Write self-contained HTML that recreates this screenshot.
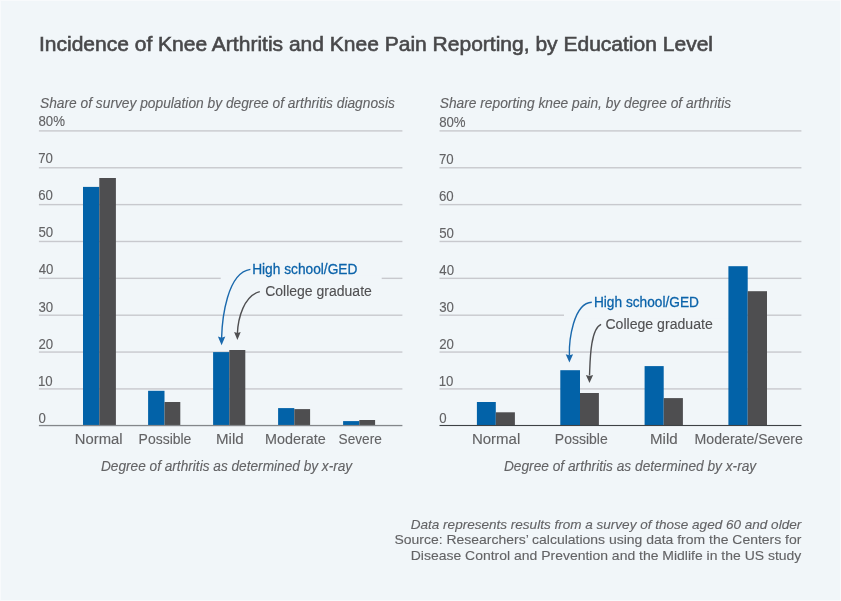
<!DOCTYPE html>
<html><head><meta charset="utf-8"><title>Incidence of Knee Arthritis and Knee Pain Reporting, by Education Level</title>
<style>
html,body{margin:0;padding:0;background:#f1f6f9;overflow:hidden;}
svg{display:block;}
text{font-family:"Liberation Sans",Arial,sans-serif;}
</style></head><body>
<svg width="841" height="601" viewBox="0 0 841 601">
<rect x="0" y="0" width="841" height="601" fill="#f1f6f9"/>
<rect x="0" y="0" width="841" height="1" fill="#f8fafc"/>
<rect x="0" y="0" width="1" height="601" fill="#f8fafc"/>
<rect x="840" y="0" width="1" height="601" fill="#f8fafc"/>
<rect x="0" y="600" width="841" height="1" fill="#f8fafc"/>

<rect x="38.9" y="130.20" width="363.5" height="1.4" fill="#c8c9ce"/>
<rect x="38.9" y="167.06" width="363.5" height="1.4" fill="#c8c9ce"/>
<rect x="38.9" y="203.92" width="363.5" height="1.4" fill="#c8c9ce"/>
<rect x="38.9" y="240.78" width="363.5" height="1.4" fill="#c8c9ce"/>
<rect x="38.9" y="277.64" width="363.5" height="1.4" fill="#c8c9ce"/>
<rect x="38.9" y="314.50" width="363.5" height="1.4" fill="#c8c9ce"/>
<rect x="38.9" y="351.36" width="363.5" height="1.4" fill="#c8c9ce"/>
<rect x="38.9" y="388.22" width="363.5" height="1.4" fill="#c8c9ce"/>
<rect x="439.5" y="130.20" width="361.9" height="1.4" fill="#c8c9ce"/>
<rect x="439.5" y="167.06" width="361.9" height="1.4" fill="#c8c9ce"/>
<rect x="439.5" y="203.92" width="361.9" height="1.4" fill="#c8c9ce"/>
<rect x="439.5" y="240.78" width="361.9" height="1.4" fill="#c8c9ce"/>
<rect x="439.5" y="277.64" width="361.9" height="1.4" fill="#c8c9ce"/>
<rect x="439.5" y="314.50" width="361.9" height="1.4" fill="#c8c9ce"/>
<rect x="439.5" y="351.36" width="361.9" height="1.4" fill="#c8c9ce"/>
<rect x="439.5" y="388.22" width="361.9" height="1.4" fill="#c8c9ce"/>
<rect x="220.7" y="275.3" width="161" height="6" fill="#f1f6f9"/>
<rect x="564" y="312.2" width="170" height="6" fill="#f1f6f9"/>
<rect x="83" y="186.9" width="16.3" height="238.6" fill="#0262a8"/>
<rect x="99.3" y="178" width="16.6" height="247.5" fill="#4e4e50"/>
<rect x="148.1" y="390.8" width="16.4" height="34.7" fill="#0262a8"/>
<rect x="164.5" y="402" width="15.8" height="23.5" fill="#4e4e50"/>
<rect x="213.1" y="352.1" width="16.2" height="73.4" fill="#0262a8"/>
<rect x="229.3" y="350" width="16.0" height="75.5" fill="#4e4e50"/>
<rect x="278.1" y="408.1" width="16.2" height="17.4" fill="#0262a8"/>
<rect x="294.3" y="409.1" width="15.8" height="16.4" fill="#4e4e50"/>
<rect x="343.1" y="421.1" width="16.2" height="4.4" fill="#0262a8"/>
<rect x="359.3" y="420" width="15.8" height="5.5" fill="#4e4e50"/>
<rect x="476.9" y="402" width="18.9" height="23.5" fill="#0262a8"/>
<rect x="495.8" y="412.3" width="19.1" height="13.2" fill="#4e4e50"/>
<rect x="560.3" y="370.2" width="19.7" height="55.3" fill="#0262a8"/>
<rect x="580" y="393" width="18.9" height="32.5" fill="#4e4e50"/>
<rect x="644.6" y="366.1" width="19.1" height="59.4" fill="#0262a8"/>
<rect x="663.7" y="398.1" width="19.2" height="27.4" fill="#4e4e50"/>
<rect x="728.4" y="266.2" width="19.3" height="159.3" fill="#0262a8"/>
<rect x="747.7" y="291.2" width="19.3" height="134.3" fill="#4e4e50"/>
<rect x="38.9" y="424.90" width="363.5" height="1.3" fill="#84878b"/>
<rect x="439.5" y="424.95" width="361.9" height="1.1" fill="#3e4245"/>
<text x="38.95" y="50.7" font-size="21" fill="#48484a" stroke="#48484a" stroke-width="0.6" textLength="674.06" lengthAdjust="spacingAndGlyphs">Incidence of Knee Arthritis and Knee Pain Reporting, by Education Level</text>
<text x="40.06" y="107.6" font-size="14.2" fill="#636365" font-style="italic" stroke="#636365" stroke-width="0.12" textLength="354.84" lengthAdjust="spacingAndGlyphs">Share of survey population by degree of arthritis diagnosis</text>
<text x="439.76" y="107.8" font-size="14.2" fill="#636365" font-style="italic" stroke="#636365" stroke-width="0.12" textLength="291.37" lengthAdjust="spacingAndGlyphs">Share reporting knee pain, by degree of arthritis</text>
<text x="38.43" y="125.7" font-size="14" fill="#636365" stroke="#636365" stroke-width="0.12" textLength="26.48" lengthAdjust="spacingAndGlyphs">80%</text>
<text x="38.19" y="162.8" font-size="14" fill="#636365" stroke="#636365" stroke-width="0.12" textLength="14.72" lengthAdjust="spacingAndGlyphs">70</text>
<text x="38.19" y="200.0" font-size="14" fill="#636365" stroke="#636365" stroke-width="0.12" textLength="14.72" lengthAdjust="spacingAndGlyphs">60</text>
<text x="38.43" y="236.7" font-size="14" fill="#636365" stroke="#636365" stroke-width="0.12" textLength="14.72" lengthAdjust="spacingAndGlyphs">50</text>
<text x="38.66" y="273.7" font-size="14" fill="#636365" stroke="#636365" stroke-width="0.12" textLength="14.72" lengthAdjust="spacingAndGlyphs">40</text>
<text x="38.43" y="311.8" font-size="14" fill="#636365" stroke="#636365" stroke-width="0.12" textLength="14.72" lengthAdjust="spacingAndGlyphs">30</text>
<text x="38.43" y="348.9" font-size="14" fill="#636365" stroke="#636365" stroke-width="0.12" textLength="14.72" lengthAdjust="spacingAndGlyphs">20</text>
<text x="37.96" y="386.1" font-size="14" fill="#636365" stroke="#636365" stroke-width="0.12" textLength="14.72" lengthAdjust="spacingAndGlyphs">10</text>
<text x="38.43" y="422.9" font-size="14" fill="#636365" stroke="#636365" stroke-width="0.12" textLength="7.37" lengthAdjust="spacingAndGlyphs">0</text>
<text x="439.13" y="126.7" font-size="14" fill="#636365" stroke="#636365" stroke-width="0.12" textLength="26.48" lengthAdjust="spacingAndGlyphs">80%</text>
<text x="438.89" y="163.8" font-size="14" fill="#636365" stroke="#636365" stroke-width="0.12" textLength="14.72" lengthAdjust="spacingAndGlyphs">70</text>
<text x="438.89" y="201.0" font-size="14" fill="#636365" stroke="#636365" stroke-width="0.12" textLength="14.72" lengthAdjust="spacingAndGlyphs">60</text>
<text x="439.13" y="238.0" font-size="14" fill="#636365" stroke="#636365" stroke-width="0.12" textLength="14.72" lengthAdjust="spacingAndGlyphs">50</text>
<text x="439.36" y="275.3" font-size="14" fill="#636365" stroke="#636365" stroke-width="0.12" textLength="14.72" lengthAdjust="spacingAndGlyphs">40</text>
<text x="439.13" y="312.0" font-size="14" fill="#636365" stroke="#636365" stroke-width="0.12" textLength="14.72" lengthAdjust="spacingAndGlyphs">30</text>
<text x="439.13" y="348.7" font-size="14" fill="#636365" stroke="#636365" stroke-width="0.12" textLength="14.72" lengthAdjust="spacingAndGlyphs">20</text>
<text x="438.66" y="385.8" font-size="14" fill="#636365" stroke="#636365" stroke-width="0.12" textLength="14.72" lengthAdjust="spacingAndGlyphs">10</text>
<text x="439.13" y="422.8" font-size="14" fill="#636365" stroke="#636365" stroke-width="0.12" textLength="7.37" lengthAdjust="spacingAndGlyphs">0</text>
<text x="74.83" y="443.7" font-size="13.8" fill="#636365" stroke="#636365" stroke-width="0.12" textLength="47.71" lengthAdjust="spacingAndGlyphs">Normal</text>
<text x="138.59" y="443.7" font-size="13.8" fill="#636365" stroke="#636365" stroke-width="0.12" textLength="52.82" lengthAdjust="spacingAndGlyphs">Possible</text>
<text x="216.01" y="443.7" font-size="13.8" fill="#636365" stroke="#636365" stroke-width="0.12" textLength="27.67" lengthAdjust="spacingAndGlyphs">Mild</text>
<text x="265.06" y="443.7" font-size="13.8" fill="#636365" stroke="#636365" stroke-width="0.12" textLength="60.71" lengthAdjust="spacingAndGlyphs">Moderate</text>
<text x="338.61" y="443.7" font-size="13.8" fill="#636365" stroke="#636365" stroke-width="0.12" textLength="43.16" lengthAdjust="spacingAndGlyphs">Severe</text>
<text x="471.91" y="443.7" font-size="13.8" fill="#636365" stroke="#636365" stroke-width="0.12" textLength="48.34" lengthAdjust="spacingAndGlyphs">Normal</text>
<text x="554.89" y="443.7" font-size="13.8" fill="#636365" stroke="#636365" stroke-width="0.12" textLength="52.82" lengthAdjust="spacingAndGlyphs">Possible</text>
<text x="650.01" y="443.7" font-size="13.8" fill="#636365" stroke="#636365" stroke-width="0.12" textLength="27.67" lengthAdjust="spacingAndGlyphs">Mild</text>
<text x="694.58" y="443.7" font-size="13.8" fill="#636365" stroke="#636365" stroke-width="0.12" textLength="108.33" lengthAdjust="spacingAndGlyphs">Moderate/Severe</text>
<text x="100.95" y="470.7" font-size="13.8" fill="#636365" font-style="italic" stroke="#636365" stroke-width="0.12" textLength="251.28" lengthAdjust="spacingAndGlyphs">Degree of arthritis as determined by x-ray</text>
<text x="503.95" y="470.7" font-size="13.8" fill="#636365" font-style="italic" stroke="#636365" stroke-width="0.12" textLength="252.28" lengthAdjust="spacingAndGlyphs">Degree of arthritis as determined by x-ray</text>
<text x="252.13" y="273.6" font-size="14.2" fill="#0b63aa" stroke="#0b63aa" stroke-width="0.28" textLength="105.33" lengthAdjust="spacingAndGlyphs">High school/GED</text>
<text x="265.15" y="295.6" font-size="14.0" fill="#505052" stroke="#505052" stroke-width="0.12" textLength="106.69" lengthAdjust="spacingAndGlyphs">College graduate</text>
<text x="593.93" y="306.7" font-size="14.2" fill="#0b63aa" stroke="#0b63aa" stroke-width="0.28" textLength="105.02" lengthAdjust="spacingAndGlyphs">High school/GED</text>
<text x="605.45" y="328.6" font-size="14.0" fill="#505052" stroke="#505052" stroke-width="0.12" textLength="107.30" lengthAdjust="spacingAndGlyphs">College graduate</text>
<text x="410.75" y="528.7" font-size="13.6" fill="#636365" font-style="italic" stroke="#636365" stroke-width="0.12" textLength="390.47" lengthAdjust="spacingAndGlyphs">Data represents results from a survey of those aged 60 and older</text>
<text x="394.49" y="544.4" font-size="13.6" fill="#636365" stroke="#636365" stroke-width="0.12" textLength="406.89" lengthAdjust="spacingAndGlyphs">Source: Researchers’ calculations using data from the Centers for</text>
<text x="410.77" y="560.0" font-size="13.6" fill="#636365" stroke="#636365" stroke-width="0.12" textLength="390.57" lengthAdjust="spacingAndGlyphs">Disease Control and Prevention and the Midlife in the US study</text>
<path d="M250.4,269.4 C227.1,272.6 222.1,318.8 221.6,338.0" fill="none" stroke="#1a69ad" stroke-width="1.4"/>
<path d="M221.6,345.3 L217.90,336.60 L221.6,337.70 L225.30,336.60 Z" fill="#1a69ad"/>
<path d="M259.8,291.6 C243.9,295.6 238.0,318.4 237.4,333.5" fill="none" stroke="#505052" stroke-width="1.4"/>
<path d="M237.4,339.9 L234.10,332.00 L237.4,333.10 L240.70,332.00 Z" fill="#505052"/>
<path d="M591.8,302.2 C573.2,302.9 568.9,341.3 569.4,355.5" fill="none" stroke="#1a69ad" stroke-width="1.4"/>
<path d="M569.4,362.6 L565.70,354.20 L569.4,355.30 L573.10,354.20 Z" fill="#1a69ad"/>
<path d="M601.1,324.3 C589.8,328.9 590.1,364.3 589.5,375.5" fill="none" stroke="#505052" stroke-width="1.4"/>
<path d="M589.5,383.0 L585.90,374.90 L589.5,376.00 L593.10,374.90 Z" fill="#505052"/>
</svg></body></html>
